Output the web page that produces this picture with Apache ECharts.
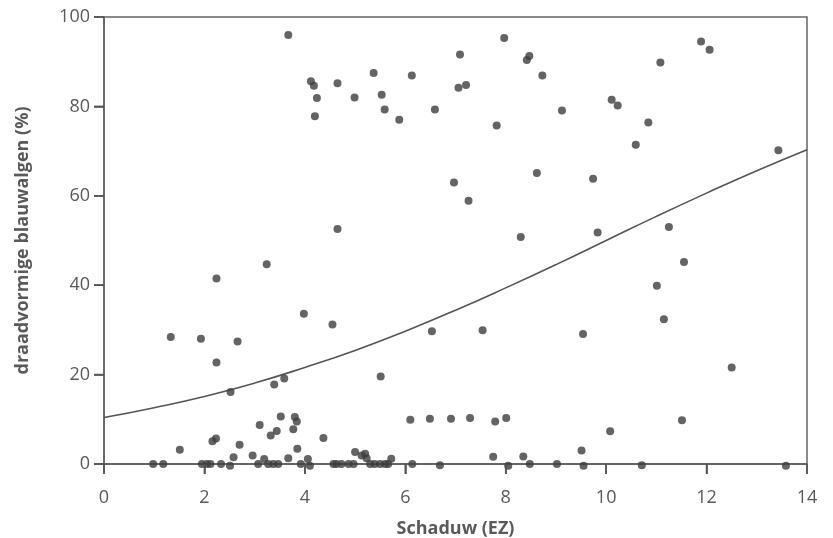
<!DOCTYPE html>
<html>
<head>
<meta charset="utf-8">
<script src="https://cdn.jsdelivr.net/npm/echarts@6/dist/echarts.min.js"></script>
<style>
  html, body { margin: 0; padding: 0; background: #ffffff; }
  #chart { width: 833px; height: 538px; }
</style>
</head>
<body>
<div id="chart"></div>
<script>
// Shade (EZ) versus share of filamentous cyanobacteria (%), one dot per sample
const shadeX = [
  3.67, 4.12, 4.18, 4.24, 4.20, 4.65, 4.99, 5.37, 5.53, 5.59, 5.88, 6.13, 6.59, 7.09, 7.06,
  7.21, 7.82, 7.97, 8.42, 8.47, 8.73, 9.12, 10.11, 10.23, 10.59, 10.84, 11.08, 11.89, 12.06, 13.43,
  6.97, 7.26, 8.62, 9.74, 4.65, 8.30, 9.83, 11.25, 11.55, 11.01, 11.15, 9.54, 7.54, 6.53, 4.55,
  3.98, 3.24, 2.24, 1.33, 1.93, 2.66, 2.24, 12.50, 5.51, 3.59, 3.39, 2.52,
  3.52, 3.80, 3.84, 3.77, 3.10, 3.44, 3.32, 2.23, 2.16, 4.37, 2.70, 1.51, 3.85, 2.96, 3.67, 2.58,
  3.19, 6.10, 6.49, 6.91, 7.29, 7.79, 8.01, 11.51, 10.08, 9.51, 5.00, 5.13, 5.20, 5.23, 5.72, 4.06,
  7.75, 8.35,
  0.98, 1.18, 1.95, 2.05, 2.12, 2.33, 2.51, 3.07, 3.27, 3.37, 3.47, 3.92, 4.10, 4.57, 4.63, 4.73,
  4.87, 4.97, 5.30, 5.39, 5.50, 5.60, 5.66, 6.14, 6.69, 8.05, 8.48, 9.02, 9.55, 10.71, 13.58
];
const algaeY = [
  96.0, 85.6, 84.6, 81.9, 77.8, 85.2, 82.0, 87.5, 82.6, 79.3, 77.0, 86.9, 79.3, 91.6, 84.2,
  84.8, 75.7, 95.3, 90.4, 91.3, 86.9, 79.1, 81.5, 80.2, 71.4, 76.4, 89.8, 94.5, 92.7, 70.2,
  63.0, 58.9, 65.1, 63.8, 52.6, 50.8, 51.8, 53.0, 45.2, 39.9, 32.4, 29.1, 29.9, 29.7, 31.2,
  33.6, 44.7, 41.5, 28.4, 28.0, 27.4, 22.7, 21.6, 19.6, 19.1, 17.8, 16.1,
  10.6, 10.5, 9.5, 7.8, 8.7, 7.4, 6.4, 5.7, 5.1, 5.8, 4.3, 3.2, 3.4, 1.9, 1.3, 1.5,
  1.1, 9.9, 10.1, 10.1, 10.3, 9.5, 10.3, 9.8, 7.3, 3.0, 2.7, 1.9, 2.3, 1.3, 1.2, 1.1,
  1.6, 1.7,
  0, 0, 0, 0, 0, 0, -0.4, 0, 0, 0, 0, 0, -0.4, 0, 0, 0,
  0, 0, 0, 0, 0, 0, 0, 0, -0.3, -0.4, 0, 0, -0.4, -0.3, -0.4
];

// Fitted curve, read at whole shade units
const fitX = [0, 1, 2, 3, 4, 5, 6, 7, 8, 9, 10, 11, 12, 13, 14];
const fitY = [10.4, 12.6, 15.1, 18.1, 21.6, 25.4, 29.7, 34.4, 39.4, 44.6, 50.0, 55.4, 60.6, 65.6, 70.3];

// Axis ticks
const xTicks = [0, 2, 4, 6, 8, 10, 12, 14];
const yTicks = [0, 20, 40, 60, 80, 100];

const points = shadeX.map((x, i) => [x, algaeY[i]]);
const curve = fitX.map((x, i) => [x, fitY[i]]);

const axisGrey = '#666666';
const tickGrey = '#555555';
const textGrey = '#5a5a5a';
const font = '"Open Sans", "Noto Sans", sans-serif';
const tickLen = 10;

const chart = echarts.init(document.getElementById('chart'));
chart.setOption({
  animation: false,
  backgroundColor: '#ffffff',
  grid: {
    left: 104, right: 26, top: 17, bottom: 74,
    outerBoundsMode: 'none',
    show: true, borderColor: axisGrey, borderWidth: 1.5
  },
  xAxis: {
    type: 'value',
    min: xTicks[0], max: xTicks[xTicks.length - 1], interval: xTicks[1] - xTicks[0],
    name: 'Schaduw (EZ)',
    nameLocation: 'middle', nameGap: 56,
    nameTextStyle: { color: textGrey, fontSize: 18, fontWeight: 'bold', fontFamily: font },
    axisLine: { show: true, lineStyle: { color: axisGrey, width: 1.8 } },
    axisTick: { show: true, length: tickLen, lineStyle: { color: tickGrey, width: 1.6 } },
    axisLabel: { color: textGrey, fontSize: 18, fontFamily: font, margin: 25 },
    splitLine: { show: false }
  },
  yAxis: {
    type: 'value',
    min: yTicks[0], max: yTicks[yTicks.length - 1], interval: yTicks[1] - yTicks[0],
    name: 'draadvormige blauwalgen (%)',
    nameLocation: 'middle', nameGap: 72,
    nameTextStyle: { color: textGrey, fontSize: 18, fontWeight: 'bold', fontFamily: font },
    axisLine: { show: true, lineStyle: { color: axisGrey, width: 1.8 } },
    axisTick: { show: true, length: tickLen, lineStyle: { color: tickGrey, width: 1.6 } },
    axisLabel: { color: textGrey, fontSize: 18, fontFamily: font, margin: 14 },
    splitLine: { show: false }
  },
  series: [
    {
      type: 'line',
      data: curve,
      smooth: true,
      symbol: 'none',
      lineStyle: { color: '#555555', width: 1.6 },
      z: 2
    },
    {
      type: 'scatter',
      data: points,
      symbol: 'circle',
      symbolSize: 8,
      clip: false,
      itemStyle: { color: '#3d3d3d' },
      z: 3
    }
  ]
});

// Outward tick marks, placed through the axes' own scales
const tickMarks = [];
xTicks.forEach(v => {
  const p = chart.convertToPixel({ xAxisIndex: 0, yAxisIndex: 0 }, [v, yTicks[0]]);
  tickMarks.push({
    type: 'line', silent: true, z: 10,
    shape: { x1: p[0], y1: p[1], x2: p[0], y2: p[1] + tickLen },
    style: { stroke: tickGrey, lineWidth: 1.6 }
  });
});
yTicks.forEach(v => {
  const p = chart.convertToPixel({ xAxisIndex: 0, yAxisIndex: 0 }, [xTicks[0], v]);
  tickMarks.push({
    type: 'line', silent: true, z: 10,
    shape: { x1: p[0] - tickLen, y1: p[1], x2: p[0], y2: p[1] },
    style: { stroke: tickGrey, lineWidth: 1.6 }
  });
});
chart.setOption({ graphic: tickMarks });
</script>
</body>
</html>
